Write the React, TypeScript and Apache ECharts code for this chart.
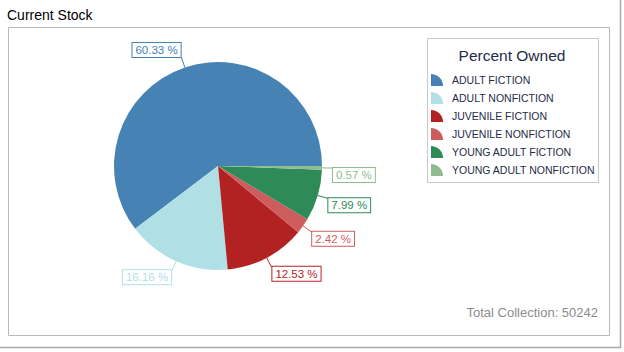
import React, { useEffect, useRef } from "react";
import * as echarts from "echarts";

const chartTitle = "Current Stock";
const legendTitle = "Percent Owned";
const categories = [
  "ADULT FICTION",
  "ADULT NONFICTION",
  "JUVENILE FICTION",
  "JUVENILE NONFICTION",
  "YOUNG ADULT FICTION",
  "YOUNG ADULT NONFICTION",
];
const percents = [60.33, 16.16, 12.53, 2.42, 7.99, 0.57];
const colors = ["#4682b4", "#b0e0e6", "#b22222", "#cd5c5c", "#2e8b57", "#8fbc8f"];
const totalCollection = 50242;

const FONT = "'Liberation Sans', Arial, sans-serif";
const ICON = "path://M0 14V0A14 14 0 0 1 14 14Z";

export default function App() {
  const ref = useRef<HTMLDivElement>(null);
  useEffect(() => {
    if (!ref.current) return;
    const chart = echarts.init(ref.current, null, { renderer: "svg" });
    const data = categories.map((name, i) => ({
      name,
      value: percents[i],
      itemStyle: { color: colors[i] },
      label: { color: colors[i], borderColor: colors[i] },
      labelLine: { lineStyle: { color: colors[i] } },
    }));
    chart.setOption({
      animation: false,
      backgroundColor: "#ffffff",
      title: {
        text: chartTitle,
        left: 7,
        top: 8,
        padding: 0,
        textStyle: { fontSize: 14, fontWeight: "normal", color: "#000", fontFamily: FONT },
      },
      legend: {
        orient: "vertical",
        left: 431,
        top: 74,
        padding: 0,
        itemWidth: 14,
        itemHeight: 12,
        itemGap: 6,
        icon: ICON,
        selectedMode: false,
        data: categories,
        textStyle: { fontSize: 10.5, color: "#1f2b48", fontFamily: FONT, padding: [0, 0, 0, 3] },
      },
      graphic: [
        {
          type: "rect",
          z: -10,
          shape: { x: 8.5, y: 27.5, width: 601, height: 308 },
          style: { fill: "#fff", stroke: "#b8b8b8", lineWidth: 1 },
          silent: true,
        },
        {
          type: "line",
          shape: { x1: 620.5, y1: 0, x2: 620.5, y2: 348 },
          style: { stroke: "#a8a8a8", lineWidth: 1.5 },
          silent: true,
        },
        {
          type: "line",
          shape: { x1: 0, y1: 347.5, x2: 621, y2: 347.5 },
          style: { stroke: "#a8a8a8", lineWidth: 1.5 },
          silent: true,
        },
        {
          type: "rect",
          z: -5,
          shape: { x: 427.5, y: 38.5, width: 171, height: 144 },
          style: { fill: "#fff", stroke: "#c8c8c8", lineWidth: 1 },
          silent: true,
        },
        {
          type: "text",
          x: 512,
          y: 55,
          style: {
            text: legendTitle,
            fontSize: 15.5,
            fontFamily: FONT,
            fill: "#1f2b48",
            align: "center",
            verticalAlign: "middle",
          },
          silent: true,
        },
        {
          type: "text",
          x: 598,
          y: 312,
          style: {
            text: "Total Collection: " + totalCollection,
            fontSize: 13,
            fontFamily: FONT,
            fill: "#8c8c8c",
            align: "right",
            verticalAlign: "middle",
          },
          silent: true,
        },
      ],
      series: [
        {
          type: "pie",
          center: [218, 166],
          radius: 104,
          startAngle: 0,
          clockwise: false,
          avoidLabelOverlap: false,
          data,
          label: {
            show: true,
            position: "outside",
            formatter: (p: any) => p.value.toFixed(2) + " %",
            fontSize: 11.5,
            fontFamily: FONT,
            backgroundColor: "#fff",
            borderWidth: 1,
            padding: [1, 3, 1, 3],
            distanceToLabelLine: 0,
          },
          labelLine: { show: true, length: 10, length2: 1, lineStyle: { width: 1 } },
          labelLayout: (params: any) => {
            const pts = params.labelLinePoints;
            const r = params.labelRect;
            if (!pts || !r) return {};
            const up = pts[pts.length - 1][1] < pts[0][1];
            return { dy: up ? -r.height / 2 : r.height / 2 - 1 };
          },
          itemStyle: { borderWidth: 0 },
          emphasis: { disabled: true },
        },
      ],
    });
    return () => chart.dispose();
  }, []);
  return (
    <div
      ref={ref}
      style={{ position: "absolute", left: 0, top: 0, width: 624, height: 352 }}
    />
  );
}
